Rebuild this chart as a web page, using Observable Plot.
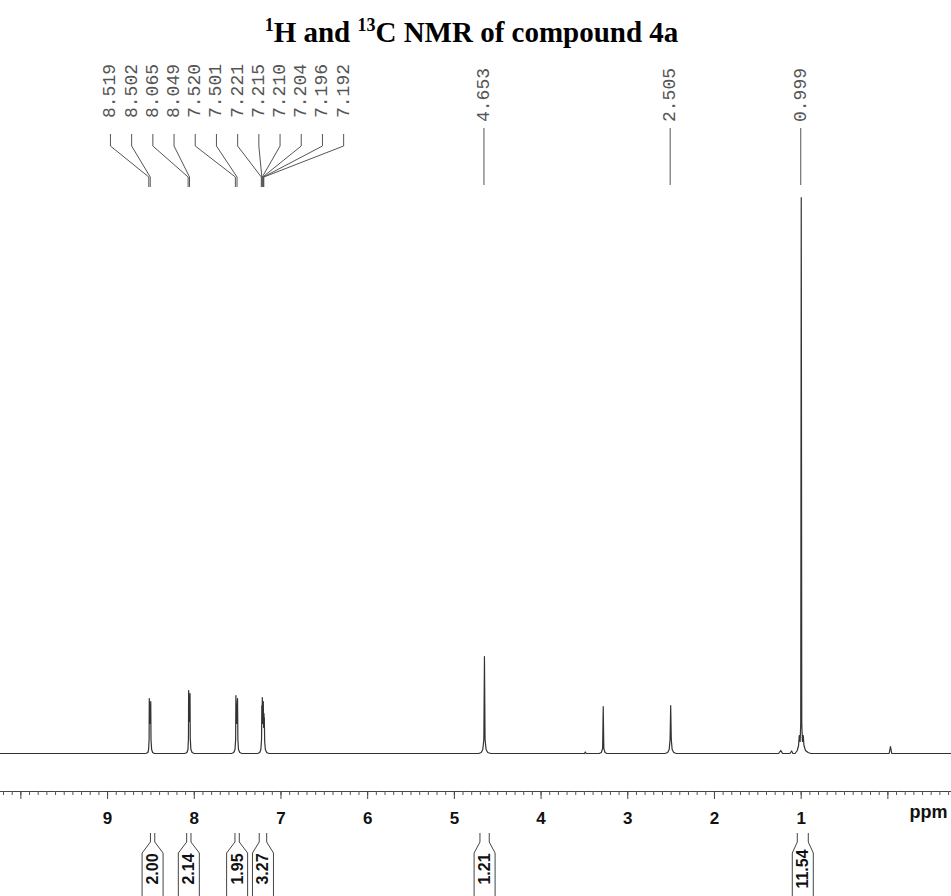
<!DOCTYPE html>
<html><head><meta charset="utf-8">
<script src="https://cdn.jsdelivr.net/npm/d3@7"></script>
<script src="https://cdn.jsdelivr.net/npm/@observablehq/plot@0.6"></script>
<style>
body{margin:0;background:#fff;width:951px;overflow:hidden;}
#title{height:48px;box-sizing:border-box;padding-top:16px;padding-right:8px;line-height:32px;text-align:center;font-family:"Liberation Serif","Times New Roman",serif;font-weight:bold;font-size:29px;color:#000;white-space:nowrap;}
#title sup{font-size:18px;line-height:0;vertical-align:11px;}
svg{display:block}
g[aria-label="x-axis tick label"] text{font-weight:bold;font-family:"Liberation Sans",Arial,sans-serif;}
</style></head><body>
<div id="title"><sup>1</sup>H and <sup>13</sup>C NMR of compound 4a</div>
<div id="chart"></div>
<script>
// ---- data ----
const xDomain = [10.235, -0.734];          // ppm, left to right
const yDomain = [-38, 556];                 // relative intensity
const majorTicks = [10, 9, 8, 7, 6, 5, 4, 3, 2, 1, 0];
const majorTickLabels = ["", "9", "8", "7", "6", "5", "4", "3", "2", "1", ""];
const minorTicks = d3.range(-7, 103).map(i => i / 10);
const axisUnit = "ppm";

// spectrum trace: [ppm, intensity]
const spectrum = [
  [10.235, 0],
  [8.56, 0], [8.535, 1], [8.527, 4], [8.521, 14], [8.519, 55], [8.511, 30], [8.502, 52], [8.499, 14], [8.492, 4], [8.48, 1], [8.46, 0],
  [8.11, 0], [8.085, 1], [8.073, 4], [8.067, 15], [8.065, 63], [8.057, 32], [8.049, 60], [8.046, 15], [8.039, 4], [8.025, 1], [8.00, 0],
  [7.57, 0], [7.545, 1], [7.53, 4], [7.523, 14], [7.520, 58], [7.511, 30], [7.501, 55], [7.497, 14], [7.49, 4], [7.475, 1], [7.45, 0],
  [7.27, 0], [7.245, 1], [7.232, 4], [7.224, 14], [7.221, 48], [7.218, 30], [7.215, 56], [7.2125, 32], [7.210, 50], [7.207, 30],
  [7.204, 52], [7.200, 26], [7.196, 40], [7.194, 28], [7.192, 36], [7.188, 12], [7.18, 4], [7.165, 1], [7.14, 0],
  [4.72, 0], [4.69, 1], [4.672, 4], [4.66, 14], [4.653, 97], [4.646, 14], [4.634, 4], [4.615, 1], [4.58, 0],
  [3.50, 0], [3.49, 1.5], [3.48, 0],
  [3.33, 0], [3.305, 1], [3.29, 5], [3.283, 47], [3.276, 5], [3.262, 1], [3.24, 0],
  [2.57, 0], [2.54, 1], [2.522, 4], [2.512, 14], [2.505, 48], [2.498, 14], [2.488, 4], [2.47, 1], [2.44, 0],
  [1.26, 0], [1.235, 3], [1.215, 0],
  [1.13, 0], [1.11, 2.5], [1.095, 0],
  [1.07, 0], [1.045, 3], [1.03, 8], [1.022, 18], [1.012, 12], [1.005, 30], [0.999, 556], [0.993, 30], [0.985, 12],
  [0.976, 18], [0.968, 8], [0.95, 3], [0.92, 1], [0.89, 0],
  [-0.015, 0], [-0.03, 7], [-0.045, 0],
  [-0.734, 0]
];

// peak pick labels
const groupPeaks = [8.519, 8.502, 8.065, 8.049, 7.520, 7.501, 7.221, 7.215, 7.210, 7.204, 7.196, 7.192];
const singlePeaks = [4.653, 2.505, 0.999];

// integrals
const integralLabels = ["2.00", "2.14", "1.95", "3.27", "1.21", "11.54"];
const integralFrom   = [8.50, 8.082, 7.525, 7.245, 4.699, 1.039];
const integralTo     = [8.45, 8.032, 7.475, 7.159, 4.592, 0.912];

// ---- chart ----
const W = 951, H = 848;
const plot = Plot.plot({
  width: W, height: H,
  marginTop: 149, marginBottom: 105, marginLeft: 0, marginRight: 0,
  style: {background: "#fff", fontFamily: "Liberation Sans, Arial, sans-serif", color: "#111"},
  x: {domain: xDomain, label: null},
  y: {domain: yDomain, axis: null},
  marks: [
    Plot.ruleY([yDomain[0]], {stroke: "#444", strokeWidth: 1}),
    Plot.axisX({ticks: minorTicks, tickSize: 4, tickFormat: () => "", stroke: "#555", label: null}),
    Plot.axisX({ticks: majorTicks, tickSize: 8, tickPadding: 12, fontSize: 17, fill: "#111", stroke: "#444",
      tickFormat: d => majorTickLabels[majorTicks.indexOf(d)], label: null}),
    Plot.text([axisUnit], {frameAnchor: "bottom-right", dx: -4, dy: 26, textAnchor: "end",
      fontSize: 18, fontWeight: "bold", fill: "#111"}),
    Plot.line(spectrum, {x: d => d[0], y: d => d[1], stroke: "#333", strokeWidth: 1.2})
  ]
});
document.getElementById("chart").appendChild(plot);

// annotations placed with Plot's own x scale
const xs = plot.scale("x");
const sx = v => xs.apply(v);
const svg = d3.select(plot);
const ann = svg.append("g").attr("fill", "none");

// grouped peak labels (spread evenly around the group's centre)
const gMean = d3.mean(groupPeaks, p => sx(p));
const spacing = 21.2;
groupPeaks.forEach((p, i) => {
  const lx = gMean + (i - (groupPeaks.length - 1) / 2) * spacing;
  const px = sx(p);
  ann.append("path").attr("d", `M${lx},86 V98 L${px},129 V139`).attr("stroke", "#555").attr("stroke-width", 1);
  svg.append("text").attr("transform", `translate(${lx},70) rotate(-90)`)
    .attr("text-anchor", "start").attr("dominant-baseline", "central")
    .attr("font-family", "Liberation Mono, DejaVu Sans Mono, monospace").attr("font-size", 18).attr("fill", "#555")
    .text(p.toFixed(3));
});
singlePeaks.forEach(p => {
  const px = sx(p);
  ann.append("path").attr("d", `M${px},80 V137`).attr("stroke", "#555").attr("stroke-width", 1);
  svg.append("text").attr("transform", `translate(${px},74) rotate(-90)`)
    .attr("text-anchor", "start").attr("dominant-baseline", "central")
    .attr("font-family", "Liberation Mono, DejaVu Sans Mono, monospace").attr("font-size", 18).attr("fill", "#555")
    .text(p.toFixed(3));
});

// integral brackets
integralLabels.forEach((lab, i) => {
  const xa = sx(integralFrom[i]), xb = sx(integralTo[i]);
  const cx = (xa + xb) / 2, hw = 10.5;
  ann.append("path")
    .attr("d", `M${xa},785 V794 L${cx - hw},805 V${H + 2} M${xb},785 V794 L${cx + hw},805 V${H + 2}`)
    .attr("stroke", "#444").attr("stroke-width", 1);
  svg.append("text").attr("transform", `translate(${cx},821) rotate(-90)`)
    .attr("text-anchor", "middle").attr("dominant-baseline", "central")
    .attr("font-family", "Liberation Sans, Arial, sans-serif").attr("font-weight", "bold")
    .attr("font-size", 16).attr("fill", "#111").text(lab);
});
</script></body></html>
